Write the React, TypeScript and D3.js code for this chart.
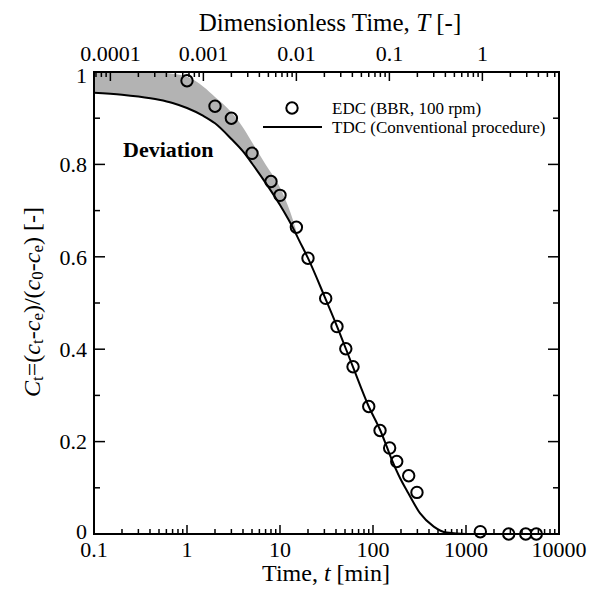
import React from "react";
import * as d3 from "d3";

// EDC measured points (BBR, 100 rpm)
const edcTime = [1, 2, 3, 5, 8, 10, 15, 20, 31, 41, 51, 61, 90, 119, 151, 180, 242, 297, 1425, 2880, 4390, 5700];
const edcC = [0.981, 0.926, 0.9, 0.824, 0.763, 0.733, 0.664, 0.597, 0.51, 0.449, 0.401, 0.362, 0.276, 0.224, 0.186, 0.157, 0.126, 0.09, 0.005, 0, 0, 0];

// TDC curve (conventional procedure)
const tdcTime = [0.1, 0.2, 0.3, 0.5, 0.7, 1, 1.5, 2, 3, 4, 5, 7, 10, 14, 16, 20, 30, 40, 60, 90, 120, 140, 160, 190, 240, 320, 450, 620, 1000, 10000];
const tdcC = [0.955, 0.951, 0.947, 0.94, 0.933, 0.922, 0.905, 0.889, 0.855, 0.828, 0.802, 0.76, 0.712, 0.66, 0.636, 0.597, 0.515, 0.455, 0.365, 0.276, 0.224, 0.19, 0.16, 0.126, 0.088, 0.045, 0.016, 0.003, 0, 0];

// Upper boundary of the shaded "Deviation" band
const devTime = [0.1, 0.3, 0.5, 0.7, 1, 1.5, 2, 3, 4, 5, 7, 10, 13, 16];
const devC = [1.0, 1.0, 0.999, 0.996, 0.99, 0.968, 0.946, 0.913, 0.88, 0.848, 0.8, 0.75, 0.695, 0.636];

// Axis ticks
const bottomTicks = [0.1, 1, 10, 100, 1000, 10000];
const bottomLabels = ["0.1", "1", "10", "100", "1000", "10000"];
const topTicks = [0.0001, 0.001, 0.01, 0.1, 1];
const topLabels = ["0.0001", "0.001", "0.01", "0.1", "1"];
const yTicks = [0, 0.2, 0.4, 0.6, 0.8, 1];
const yLabels = ["0", "0.2", "0.4", "0.6", "0.8", "1"];
const yMinorTicks = [0.1, 0.3, 0.5, 0.7, 0.9];
const timeScaleFactor = 1500; // T = t / 1500

const legendLabels = ["EDC (BBR, 100 rpm)", "TDC (Conventional procedure)"];

const W = 590;
const H = 591;
const L = 94;
const R = 559;
const T = 72;
const B = 534;
const FONT = "'Liberation Serif', 'Times New Roman', serif";

export default function App() {
  const x = d3.scaleLog().domain([0.1, 10000]).range([L, R]);
  const xTop = d3.scaleLog().domain([0.1 / timeScaleFactor, 10000 / timeScaleFactor]).range([L, R]);
  const y = d3.scaleLinear().domain([0, 1]).range([B, T]);

  const line = d3
    .line<[number, number]>()
    .x((d) => x(d[0]))
    .y((d) => y(d[1]))
    .curve(d3.curveMonotoneX);

  const tdcPts: [number, number][] = tdcTime.map((t, i) => [t, tdcC[i]]);
  const devPts: [number, number][] = devTime.map((t, i) => [t, devC[i]]);
  const lastDev = devTime[devTime.length - 1];
  const lowerPts = tdcPts.filter((p) => p[0] <= lastDev).reverse();
  const upperPath = line(devPts) || "";
  const lowerPath = line(lowerPts) || "";
  const bandPath = upperPath + "L" + lowerPath.slice(1) + "Z";

  const bTicks: { v: number; major: boolean }[] = [];
  for (let e = -1; e <= 4; e++) {
    for (let k = 1; k <= 9; k++) {
      const v = k * Math.pow(10, e);
      if (v >= 0.1 * 0.999 && v <= 10000 * 1.001) bTicks.push({ v, major: k === 1 });
    }
  }
  const tTicks: { v: number; major: boolean }[] = [];
  const [tMin, tMax] = xTop.domain();
  for (let e = -6; e <= 1; e++) {
    for (let k = 1; k <= 9; k++) {
      const v = k * Math.pow(10, e);
      if (v >= tMin && v <= tMax) tTicks.push({ v, major: k === 1 });
    }
  }

  const MAJ = 9;
  const MIN = 5;

  return (
    <svg width={W} height={H} style={{ position: "absolute", left: 0, top: 0, background: "#fff" }} fontFamily={FONT}>
      <rect x={0} y={0} width={W} height={H} fill="#fff" />
      <path d={bandPath} fill="#b3b3b3" stroke="none" />

      <path d={line(tdcPts) || ""} fill="none" stroke="#000" strokeWidth={2} />

      {edcTime.map((t, i) => (
        <circle key={i} cx={x(t)} cy={y(edcC[i])} r={5.7} fill="none" stroke="#000" strokeWidth={2} />
      ))}

      <rect x={L} y={T} width={R - L} height={B - T} fill="none" stroke="#000" strokeWidth={2} />

      {bTicks.map((d, i) => (
        <line key={"b" + i} x1={x(d.v)} x2={x(d.v)} y1={B} y2={B - (d.major ? MAJ : MIN)} stroke="#000" strokeWidth={1.5} />
      ))}
      {tTicks.map((d, i) => (
        <line key={"t" + i} x1={xTop(d.v)} x2={xTop(d.v)} y1={T} y2={T + (d.major ? MAJ : MIN)} stroke="#000" strokeWidth={1.5} />
      ))}
      {yTicks.map((v, i) => (
        <g key={"y" + i}>
          <line x1={L} x2={L + MAJ + 2} y1={y(v)} y2={y(v)} stroke="#000" strokeWidth={1.5} />
          <line x1={R} x2={R - MAJ - 2} y1={y(v)} y2={y(v)} stroke="#000" strokeWidth={1.5} />
        </g>
      ))}
      {yMinorTicks.map((v, i) => (
        <g key={"ym" + i}>
          <line x1={L} x2={L + MIN + 1} y1={y(v)} y2={y(v)} stroke="#000" strokeWidth={1.5} />
          <line x1={R} x2={R - MIN - 1} y1={y(v)} y2={y(v)} stroke="#000" strokeWidth={1.5} />
        </g>
      ))}

      {bottomTicks.map((v, i) => (
        <text key={"bl" + i} x={x(v)} y={557} textAnchor="middle" fontSize={22} fill="#000">
          {bottomLabels[i]}
        </text>
      ))}
      {topTicks.map((v, i) => (
        <text key={"tl" + i} x={xTop(v)} y={61} textAnchor="middle" fontSize={22} fill="#000">
          {topLabels[i]}
        </text>
      ))}
      {yTicks.map((v, i) => (
        <text key={"yl" + i} x={87} y={y(v) - (v === 0 ? 3 : v === 1 ? -3 : 0)} dy="0.35em" textAnchor="end" fontSize={22} fill="#000">
          {yLabels[i]}
        </text>
      ))}

      <text x={330} y={31} textAnchor="middle" fontSize={25} fill="#000">
        Dimensionless Time, <tspan fontStyle="italic">T</tspan> [-]
      </text>
      <text x={326} y={581} textAnchor="middle" fontSize={24} fill="#000">
        Time, <tspan fontStyle="italic">t</tspan> [min]
      </text>
      <text transform="translate(40,302) rotate(-90)" textAnchor="middle" fontSize={24} fill="#000">
        <tspan fontStyle="italic">C</tspan>
        <tspan fontSize={17} dy={3}>t</tspan>
        <tspan dy={-3}>=(</tspan>
        <tspan fontStyle="italic">c</tspan>
        <tspan fontSize={17} dy={3}>t</tspan>
        <tspan dy={-3}>-</tspan>
        <tspan fontStyle="italic">c</tspan>
        <tspan fontSize={17} dy={3}>e</tspan>
        <tspan dy={-3}>)/(</tspan>
        <tspan fontStyle="italic">c</tspan>
        <tspan fontSize={17} dy={3}>0</tspan>
        <tspan dy={-3}>-</tspan>
        <tspan fontStyle="italic">c</tspan>
        <tspan fontSize={17} dy={3}>e</tspan>
        <tspan dy={-3}>) [-]</tspan>
      </text>

      <text x={123} y={157} fontSize={22} fontWeight="bold" fill="#000">
        Deviation
      </text>

      <circle cx={292} cy={108} r={5.7} fill="none" stroke="#000" strokeWidth={2} />
      <line x1={263} x2={322} y1={127} y2={127} stroke="#000" strokeWidth={2} />
      <text x={332} y={114} fontSize={17} fill="#000">
        {legendLabels[0]}
      </text>
      <text x={332} y={133} fontSize={17} fill="#000">
        {legendLabels[1]}
      </text>
    </svg>
  );
}
